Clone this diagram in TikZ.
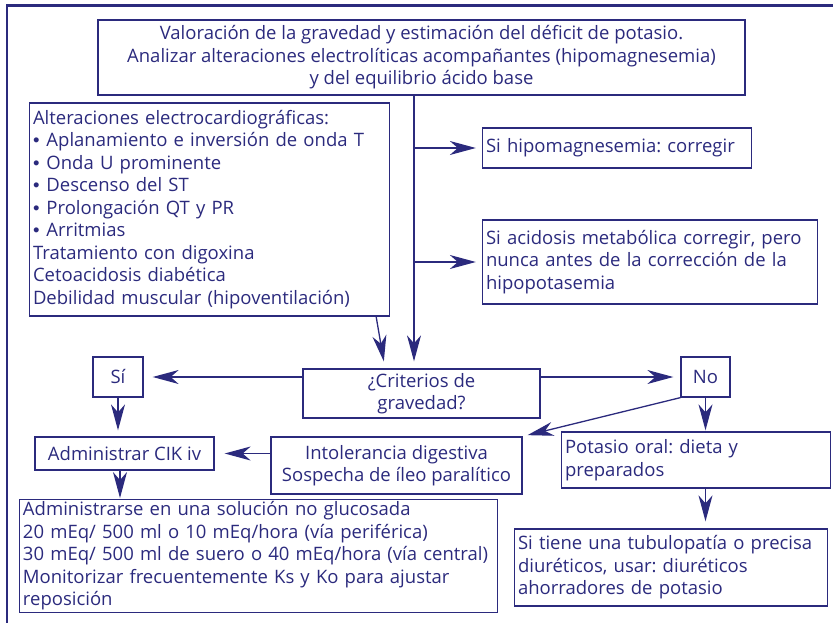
\documentclass[tikz,border=0pt]{standalone}
\usepackage{fontspec}
\setmainfont{Open Sans}
\newfontfamily\vinetafont{Liberation Sans}
\usepackage{xcolor}
\usetikzlibrary{arrows.meta, positioning}

\definecolor{azul}{RGB}{43,42,125}
\frenchspacing

\tikzset{
	caja/.style={shape=rectangle, draw=azul, line width=1.3pt, text=azul, inner xsep=3.5pt, inner ysep=2pt,
		font=\fontsize{18.5}{22.5}\selectfont},
	cajaizq/.style={caja, align=left},
	cajacen/.style={caja, align=center},
	flecha/.style={draw=azul, line width=1.3pt, -{Stealth[length=26pt, width=14pt, inset=8pt]}},
	marco/.style={draw=azul, line width=2.4pt}
}
\newcommand{\vineta}{{\vinetafont •}\hspace{7pt}}

\begin{document}
\begin{tikzpicture}[x=1pt, y=-1pt]
			\useasboundingbox (0,0) rectangle (833,623);
			% Marco exterior:
			\draw[marco] (833,5.5) -| (7,623);
			% Cajas:
			\node[cajacen, minimum width=647pt, minimum height=75pt](valor) at (421.5, 57.5){Valoración de la gravedad y estimación del déficit de potasio.\\ Analizar alteraciones electrolíticas acompañantes (hipomagnesemia)\\ y del equilibrio ácido base};
			\node[cajaizq, text width=353pt, minimum height=213pt](altera) at (209.5, 209.5){Alteraciones electrocardiográficas:\\ \vineta Aplanamiento e inversión de onda T\\ \vineta Onda U prominente\\ \vineta Descenso del ST\\ \vineta Prolongación QT y PR\\ \vineta Arritmias\\ Tratamiento con digoxina\\ Cetoacidosis diabética\\ Debilidad muscular (hipoventilación)};
			\node[cajaizq, text width=262pt, minimum height=40pt](hipomag) at (617, 148){Si hipomagnesemia: corregir};
			\node[cajaizq, text width=328pt, minimum height=84pt](acidosis) at (650, 262){Si acidosis metabólica corregir, pero\\ nunca antes de la corrección de la\\ hipopotasemia};
			\node[cajacen, minimum width=237pt, minimum height=49pt](criterios) at (421.5, 393.5){¿Criterios de\\ gravedad?};
			\node[cajacen, minimum width=50pt, minimum height=40pt](si) at (118, 377){Sí};
			\node[cajacen, minimum width=49pt, minimum height=40pt](no) at (705.5, 377){No};
			\node[cajacen, minimum width=179pt, minimum height=33pt](admin) at (124.5, 453.5){Administrar CIK iv};
			\node[cajacen, minimum width=251pt, minimum height=57pt](intol) at (396.5, 465.5){Intolerancia digestiva\\ Sospecha de íleo paralítico};
			\node[cajaizq, text width=262pt, minimum height=56pt](potasio) at (696, 460){Potasio oral: dieta y\\ preparados};
			\node[cajaizq, text width=306pt, minimum height=77pt](sitiene) at (671, 567.5){Si tiene una tubulopatía o precisa\\ diuréticos, usar: diuréticos\\ ahorradores de potasio};
			\node[cajaizq, text width=471pt, minimum height=112pt](adminse) at (258.5, 556){Administrarse en una solución no glucosada\\ 20 mEq/ 500 ml o 10 mEq/hora (vía periférica)\\ 30 mEq/ 500 ml de suero o 40 mEq/hora (vía central)\\ Monitorizar frecuentemente Ks y Ko para ajustar\\ reposición};
			% Conectores:
			\coordinate (tronco) at (414, 95);
			\draw[flecha, shorten >=7pt] (valor.south -| tronco) -- (criterios.north -| tronco);
			\draw[flecha, shorten >=6pt] (tronco |- hipomag.west) -- (hipomag.west);
			\draw[flecha, shorten >=6pt] (tronco |- acidosis) -- (acidosis.west |- tronco |- acidosis);
			\draw[flecha, shorten >=7pt] ([xshift=-14pt]altera.south east) -- ([xshift=-36.5pt]criterios.north);
			\draw[flecha, shorten >=9pt] (criterios.west |- si) -- (si.east);
			\draw[flecha, shorten >=7pt] (criterios.east |- no) -- (no.west);
			\draw[flecha, shorten >=6pt] (si.south) -- (si.south |- admin.north);
			\draw[flecha, shorten >=10pt] (intol.west |- admin) -- (admin.east);
			\draw[flecha, shorten >=5pt] (no.south west) -- (intol.north east);
			\draw[flecha, shorten >=1pt] (no.south) -- (no.south |- potasio.north);
			\draw[flecha, shorten >=7pt] (no.south |- potasio.south) -- (no.south |- sitiene.north);
			\draw[flecha, shorten >=1pt] ([xshift=-4.5pt]admin.south) -- ([xshift=-4.5pt]admin.south |- adminse.north);
		\end{tikzpicture}
\end{document}
